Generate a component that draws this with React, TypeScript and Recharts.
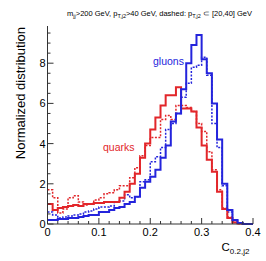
import { LineChart, Line, XAxis, YAxis } from 'recharts'

// bin edges of C_{0.2,j2}
const binEdges = [
  0, 0.01, 0.02, 0.03, 0.04, 0.05, 0.06, 0.07, 0.08, 0.09,
  0.1, 0.11, 0.12, 0.13, 0.14, 0.15, 0.16, 0.17, 0.18, 0.19,
  0.2, 0.21, 0.22, 0.23, 0.24, 0.25, 0.26, 0.27, 0.28, 0.29,
  0.3, 0.31, 0.32, 0.33, 0.34, 0.35, 0.36, 0.37, 0.38, 0.39, 0.4,
]

const gluonSolid = [
  0.2, 0.2, 0.25, 0.25, 0.3, 0.3, 0.35, 0.4, 0.45, 0.45,
  0.6, 0.6, 0.7, 0.8, 0.85, 1.0, 1.1, 1.36, 1.8, 2.1,
  2.35, 2.7, 3.3, 3.9, 5.1, 5.5, 6.7, 8.0, 8.9, 9.4,
  8.2, 7.5, 6.0, 4.2, 2.0, 0.7, 0.2, 0.05, 0, 0,
]
const gluonDashed = [
  0.6, 0.45, 0.3, 0.35, 0.4, 0.45, 0.5, 0.6, 0.65, 0.75,
  0.85, 0.85, 0.9, 1.1, 1.15, 1.45, 1.3, 1.35, 2.1, 2.2,
  3.1, 3.35, 3.8, 4.7, 5.0, 5.5, 6.3, 7.0, 7.8, 7.9,
  8.3, 7.4, 5.0, 3.8, 1.9, 0.6, 0.15, 0.05, 0, 0,
]
const quarkSolid = [
  1.0, 0.7, 0.8, 0.85, 0.9, 0.95, 0.9, 1.0, 1.0, 1.05,
  1.05, 1.1, 1.1, 1.1, 1.3, 1.6, 2.0, 2.5, 3.3, 4.0,
  4.7, 5.3, 5.9, 6.4, 6.4, 6.8, 5.75, 5.75, 5.6, 4.8,
  3.9, 3.2, 2.6, 1.6, 0.75, 0.3, 0.08, 0.02, 0, 0,
]
const quarkDashed = [
  1.7, 1.3, 0.55, 0.75, 1.3, 1.4, 1.1, 0.95, 1.0, 1.2,
  1.3, 1.5, 1.55, 1.7, 1.9, 1.9, 2.3, 2.8, 3.4, 3.9,
  4.3, 4.3, 5.2, 5.4, 5.2, 5.9, 5.9, 5.8, 5.6, 5.0,
  4.6, 3.6, 2.7, 1.7, 0.8, 0.35, 0.08, 0.02, 0, 0,
]

const xTicks = [
  0, 0.02, 0.04, 0.06, 0.08, 0.1, 0.12, 0.14, 0.16, 0.18, 0.2,
  0.22, 0.24, 0.26, 0.28, 0.3, 0.32, 0.34, 0.36, 0.38, 0.4,
]
const xLabels: Record<string, string> = { '0': '0', '0.1': '0.1', '0.2': '0.2', '0.3': '0.3', '0.4': '0.4' }
const yTicks = [
  0, 0.5, 1, 1.5, 2, 2.5, 3, 3.5, 4, 4.5, 5, 5.5, 6, 6.5, 7, 7.5, 8, 8.5, 9, 9.5,
]
const yLabels: Record<string, string> = { '0': '0', '2': '2', '4': '4', '6': '6', '8': '8' }

// last edge repeats the last bin so the step reaches 0.4
const data = binEdges.map((x, i) => {
  const j = Math.min(i, gluonSolid.length - 1)
  return { x, gs: gluonSolid[j], gd: gluonDashed[j], qs: quarkSolid[j], qd: quarkDashed[j] }
})

const RED = '#e2262a'
const BLUE = '#2424dc'
const FRAME = '#333'
const FONT = '"Liberation Sans", Arial, Helvetica, sans-serif'

function BottomTick(props: any) {
  const { x, y, payload } = props
  const label = xLabels[String(payload.value)]
  return (
    <g>
      <line x1={x} x2={x} y1={y} y2={y - (label ? 6 : 3)} stroke={FRAME} />
      {label && (
        <text x={x} y={y + 12} textAnchor="middle" fontSize={11} fontFamily={FONT} fill="#000">
          {label}
        </text>
      )}
    </g>
  )
}

function TopTick(props: any) {
  const { x, y, payload } = props
  const major = xLabels[String(payload.value)]
  return <line x1={x} x2={x} y1={y} y2={y + (major ? 6 : 3)} stroke={FRAME} />
}

function LeftTick(props: any) {
  const { x, y, payload } = props
  const label = yLabels[String(payload.value)]
  return (
    <g>
      <line x1={x} x2={x + (label ? 6 : 3)} y1={y} y2={y} stroke={FRAME} />
      {label && (
        <text x={x - 2} y={y + 4} textAnchor="end" fontSize={11} fontFamily={FONT} fill="#000">
          {label}
        </text>
      )}
    </g>
  )
}

function RightTick(props: any) {
  const { x, y, payload } = props
  const major = yLabels[String(payload.value)]
  return <line x1={x} x2={x - (major ? 6 : 3)} y1={y} y2={y} stroke={FRAME} />
}

export default function App() {
  return (
    <div style={{ position: 'absolute', left: 0, top: 0, width: 266, height: 261, background: '#fff' }}>
      <LineChart width={266} height={261} data={data} margin={{ top: 26, right: 13, bottom: 0, left: 0 }}>
        <XAxis
          dataKey="x"
          type="number"
          domain={[0, 0.4]}
          ticks={xTicks}
          interval={0}
          height={37}
          tickSize={0}
          tickMargin={0}
          tickLine={false}
          axisLine={{ stroke: FRAME }}
          tick={BottomTick}
        />
        <XAxis
          xAxisId="top"
          orientation="top"
          dataKey="x"
          type="number"
          domain={[0, 0.4]}
          ticks={xTicks}
          interval={0}
          height={0}
          tickSize={0}
          tickMargin={0}
          tickLine={false}
          axisLine={{ stroke: FRAME }}
          tick={TopTick}
        />
        <YAxis
          type="number"
          domain={[0, 9.85]}
          ticks={yTicks}
          interval={0}
          width={47.5}
          tickSize={0}
          tickMargin={0}
          tickLine={false}
          axisLine={{ stroke: FRAME }}
          tick={LeftTick}
        />
        <YAxis
          yAxisId="right"
          orientation="right"
          type="number"
          domain={[0, 9.85]}
          ticks={yTicks}
          interval={0}
          width={0}
          tickSize={0}
          tickMargin={0}
          tickLine={false}
          axisLine={{ stroke: FRAME }}
          tick={RightTick}
        />
        <Line type="stepAfter" dataKey="qd" stroke={RED} strokeWidth={1.5} strokeDasharray="2 1.5" dot={false} isAnimationActive={false} />
        <Line type="stepAfter" dataKey="gd" stroke={BLUE} strokeWidth={1.5} strokeDasharray="2 1.5" dot={false} isAnimationActive={false} />
        <Line type="stepAfter" dataKey="qs" stroke={RED} strokeWidth={2} dot={false} isAnimationActive={false} />
        <Line type="stepAfter" dataKey="gs" stroke={BLUE} strokeWidth={2} dot={false} isAnimationActive={false} />
      </LineChart>
      <svg width={266} height={261} style={{ position: 'absolute', left: 0, top: 0, pointerEvents: 'none' }}>
        <text x={252} y={16} textAnchor="end" fontSize={7.5} fontFamily={FONT} fill="#000">
          m<tspan fontSize={5.5} dy={2}>jj</tspan>
          <tspan dy={-2}>{'>200 GeV, p'}</tspan>
          <tspan fontSize={5.5} dy={2}>T,j2</tspan>
          <tspan dy={-2}>{'>40 GeV, dashed: p'}</tspan>
          <tspan fontSize={5.5} dy={2}>T,j2</tspan>
          <tspan dy={-2}>{' \u2282 [20,40] GeV'}</tspan>
        </text>
        <text
          transform="translate(25,27) rotate(-90)"
          textAnchor="end"
          fontSize={13}
          fontFamily={FONT}
          fill="#000"
        >
          Normalized distribution
        </text>
        <text x={221.5} y={251} fontSize={11.5} fontFamily={FONT} fill="#000">
          C<tspan fontSize={8} dy={2.5}>0.2,j2</tspan>
        </text>
        <text x={153} y={65} fontSize={10.5} fontFamily={FONT} fill={BLUE}>gluons</text>
        <text x={103} y={151} fontSize={10.5} fontFamily={FONT} fill={RED}>quarks</text>
      </svg>
    </div>
  )
}
